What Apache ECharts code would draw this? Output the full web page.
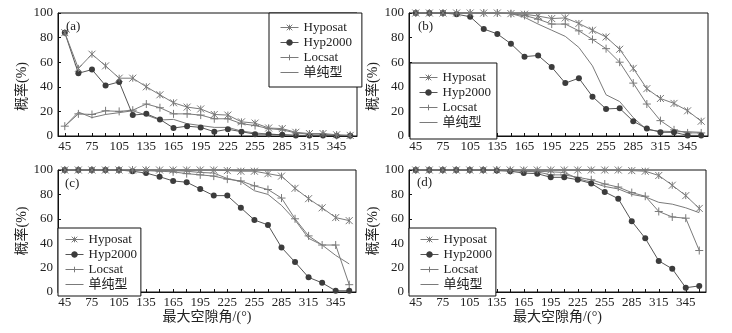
<!DOCTYPE html>
<html>
<head>
<meta charset="utf-8">
<script src="https://cdn.jsdelivr.net/npm/echarts@6/dist/echarts.min.js"></script>
<style>
  html, body { margin: 0; padding: 0; background: #fff; }
  #chart { width: 732px; height: 333px; }
</style>
</head>
<body>
<div id="chart"></div>
<script>
// max gap angle (deg), one point every 15
const gapAngles = ["45", "60", "75", "90", "105", "120", "135", "150", "165", "180", "195",
  "210", "225", "240", "255", "270", "285", "300", "315", "330", "345", "360"];
const yTicks = [0, 20, 40, 60, 80, 100];
const seriesNames = ["Hyposat", "Hyp2000", "Locsat", "单纯型"];
const panelLabels = ["(a)", "(b)", "(c)", "(d)"];

// (a)
const hyposatA = [84, 55, 66.5, 57, 47, 47, 40, 33.5, 27, 23.5, 22, 17.5, 17, 11.5, 10.5, 6.5, 6, 3, 2, 2, 1, 0.5];
const hyp2000A = [84, 51, 54, 41, 44, 17, 18, 13.5, 6.5, 8, 7, 3.5, 5.5, 3.5, 1.5, 1.5, 1, 0.5, 0.5, 0.5, 0.3, 0.3];
const locsatA = [8, 18, 17.5, 20.5, 20, 21, 26, 23, 18, 18, 17, 14, 14, 10, 8.5, 6, 5, 2.5, 1.5, 1.5, 0.5, 0.5];
const simplexA = [8, 19.5, 15, 17.5, 19, 20.5, 17, 13, 13.5, 10, 8.5, 7, 7, 4, 2.5, 1.5, 1, 0.5, 0.3, 0.3, 0.3, 0.3];
// (b)
const hyposatB = [100, 100, 100, 100, 100, 100, 100, 99.5, 99, 97.5, 95.5, 96, 91.5, 86, 80.5, 70.5, 55, 38.5, 30.5, 26.5, 20.5, 12];
const hyp2000B = [100, 100, 100, 99, 97, 87, 83, 75, 64.5, 65.5, 56, 43, 47, 32, 22, 22.5, 12, 6, 3, 3, 0.5, 0.5];
const locsatB = [100, 100, 100, 100, 100, 100, 100, 99.5, 98, 95, 91, 91, 85.5, 78.5, 71, 60, 43, 26, 12.5, 5, 2.5, 2.5];
const simplexB = [100, 100, 100, 100, 100, 100, 100, 99.5, 96.5, 91, 86, 81, 72, 57, 33.5, 28, 15, 5, 4, 3.5, 3.5, 3];
// (c)
const hyposatC = [100, 100, 100, 100, 100, 100, 100, 100, 100, 100, 100, 100, 99.5, 99, 99, 97, 95, 85, 76.5, 69, 61, 58.5];
const hyp2000C = [100, 100, 100, 100, 100, 99, 97.5, 94.5, 91, 90, 84.5, 79, 79, 69, 59, 55, 36.5, 24.5, 12, 7.5, 1, 1];
const locsatC = [100, 100, 100, 100, 100, 100, 99.5, 99, 98.5, 97, 96, 95, 92.5, 91, 87, 84, 77, 60, 46, 38.5, 38.5, 6];
const simplexC = [100, 100, 100, 100, 100, 100, 100, 100, 99.5, 99, 98, 97.5, 93, 90.5, 83, 80, 71, 59, 44, 38.5, 30, 23];
// (d)
const hyposatD = [100, 100, 100, 100, 100, 100, 100, 100, 100, 100, 100, 100, 100, 100, 100, 100, 99.5, 99, 95.5, 87.5, 79, 68.5];
const hyp2000D = [100, 100, 100, 100, 100, 100, 99.5, 99, 97.5, 97, 94, 94, 92, 89, 82, 76.5, 58, 44, 25.5, 19, 3.5, 5];
const locsatD = [100, 100, 100, 100, 100, 100, 100, 99.5, 99, 98.5, 96, 96, 94, 92, 88.5, 86, 81.5, 78.5, 66, 61.5, 60.5, 34];
const simplexD = [100, 100, 100, 100, 100, 100, 100, 100, 99.5, 99, 98.5, 98, 93, 90, 86.5, 84.5, 80, 78, 73.5, 72, 69, 65];

const panelData = [
  [hyposatA, hyp2000A, locsatA, simplexA],
  [hyposatB, hyp2000B, locsatB, simplexB],
  [hyposatC, hyp2000C, locsatC, simplexC],
  [hyposatD, hyp2000D, locsatD, simplexD],
];

const FONT = "'Liberation Serif', 'Noto Sans CJK SC', serif";
const LINE = "#7a7a7a";

const grids = [
  { left: 58, top: 13, width: 299, height: 123 },
  { left: 409, top: 13, width: 299, height: 123 },
  { left: 58, top: 170, width: 298, height: 122 },
  { left: 409, top: 170, width: 297, height: 122 },
];

const legendPos = [
  { left: 269, top: 13, padding: [8, 10, 8, 11] },
  { left: 410, top: 63, padding: [8, 6, 10, 9] },
  { left: 58, top: 228, padding: [5, 4, 5, 7] },
  { left: 409, top: 228, padding: [5, 4, 5, 11] },
];

const labelPos = [[66, 20], [418, 20], [65, 177], [417, 176]];

const markers = [
  { symbol: "path://M0,0L10,10M10,0L0,10M5,0L5,10", size: 7 },
  { symbol: "circle", size: 6 },
  { symbol: "path://M5,0L5,10M0,5L10,5", size: 8 },
  // plain line; this path is only seen in the legend icon
  { symbol: "path://M0,5L10,5M5,0L5,0.01M5,10L5,9.99", size: 6 },
];

const option = {
  animation: false,
  backgroundColor: "#fff",
  textStyle: { fontFamily: FONT, color: "#222" },
  grid: grids.map((g) => ({ ...g, show: true, borderColor: "#111", borderWidth: 1, backgroundColor: "transparent" })),
  xAxis: grids.map((g, i) => ({
    type: "category",
    gridIndex: i,
    data: gapAngles,
    boundaryGap: true,
    name: i >= 2 ? "最大空隙角/(°)" : "",
    nameLocation: "middle",
    nameGap: 18,
    nameTextStyle: { fontSize: 14, fontFamily: FONT, color: "#222" },
    axisLine: { lineStyle: { color: "#111", width: 1 } },
    axisTick: { show: true, inside: true, length: 3, interval: 0, alignWithLabel: true, lineStyle: { color: "#111" } },
    axisLabel: { interval: 1, fontSize: 13, margin: 4, color: "#222", fontFamily: FONT },
    splitLine: { show: false },
  })),
  yAxis: grids.map((g, i) => ({
    type: "value",
    gridIndex: i,
    min: yTicks[0],
    max: yTicks[yTicks.length - 1],
    interval: 20,
    name: "概率(%)",
    nameLocation: "middle",
    nameGap: 12,
    nameTextStyle: { fontSize: 14, fontFamily: FONT, color: "#222", padding: i < 2 ? [0, 24, 0, 0] : 0 },
    axisLine: { show: true, lineStyle: { color: "#111", width: 1 } },
    axisTick: { show: true, inside: true, length: 3, lineStyle: { color: "#111" } },
    axisLabel: { fontSize: 13, margin: 5, color: "#222", fontFamily: FONT },
    splitLine: { show: false },
  })),
  legend: legendPos.map((p, i) => ({
    orient: "vertical",
    left: p.left,
    top: p.top,
    padding: p.padding,
    itemGap: 2,
    itemWidth: 18,
    itemHeight: 7,
    borderColor: "#111",
    borderWidth: 1,
    backgroundColor: "#fff",
    lineStyle: { width: 1 },
    itemStyle: { borderWidth: 1 },
    data: seriesNames.map((n) => n + "#" + i),
    formatter: (name) => name.split("#")[0],
    textStyle: { fontSize: 13, fontFamily: FONT, color: "#222", lineHeight: 12.5 },
  })),
  graphic: panelLabels.map((t, i) => ({
    type: "text",
    left: labelPos[i][0],
    top: labelPos[i][1],
    style: { text: t, font: "13px " + FONT, fill: "#222" },
    z: 10,
  })),
  series: [],
};

panelData.forEach((lines, p) => {
  lines.forEach((vals, k) => {
    const m = markers[k];
    const dark = k === 1;
    option.series.push({
      type: "line",
      name: seriesNames[k] + "#" + p,
      xAxisIndex: p,
      yAxisIndex: p,
      data: vals,
      symbol: m.symbol,
      symbolSize: m.size,
      showSymbol: k !== 3,
      lineStyle: { color: dark ? "#555" : LINE, width: 1 },
      itemStyle: k === 1
        ? { color: "#3c3c3c", borderColor: "#3c3c3c", borderWidth: 0 }
        : { color: "rgba(0,0,0,0)", borderColor: LINE, borderWidth: 1 },
      emphasis: { disabled: true },
      z: 5 - k,
    });
  });
});

const chart = echarts.init(document.getElementById("chart"), null, { renderer: "canvas" });
chart.setOption(option);
</script>
</body>
</html>
